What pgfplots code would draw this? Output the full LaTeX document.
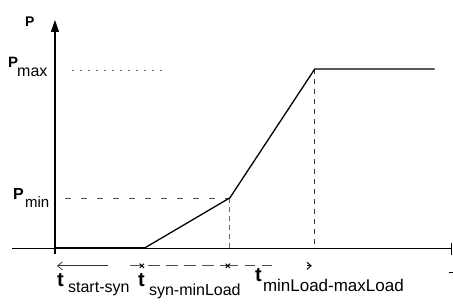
\documentclass[border=0pt]{standalone}
\usepackage{pgfplots}
\pgfplotsset{compat=1.18}
\usetikzlibrary{arrows.meta}
\usepackage{fontspec}
\setmainfont{Liberation Sans}
\begin{document}
\begin{tikzpicture}
\begin{axis}[scale only axis, width=453pt, height=304pt,
  xmin=0, xmax=453, ymin=0, ymax=304, hide axis, clip=false]
\path (axis cs:0,0) rectangle (axis cs:453,304);
% axes
\addplot[black, line width=1.2pt, -{Triangle[length=12pt,width=8pt]}] coordinates {(55,50) (55,284)};
\addplot[black, line width=1.1pt] coordinates {(12,55) (452,55)};
\addplot[black, line width=1.4pt] coordinates {(452,49) (452,61)};
\addplot[black, line width=0.6pt] coordinates {(449,32) (453,32)};
% guide lines
\addplot[black!60, line width=0.7pt, dash pattern=on 2pt off 6pt] coordinates {(72,234) (165,234)};
\addplot[black!70, line width=0.7pt, dash pattern=on 6pt off 10pt] coordinates {(65,106) (230,106)};
\addplot[black!60, line width=0.7pt, dash pattern=on 5pt off 4pt] coordinates {(230,106) (230,56)};
\addplot[black!80, line width=0.7pt, dash pattern=on 5pt off 5pt] coordinates {(315,235) (315,56)};
% power curve
\addplot[black, line width=2.6pt] coordinates {(55,56) (145,56)};
\addplot[black, line width=1.3pt] coordinates {(145,56) (230,106) (315,235) (435,235)};
% time interval arrows
\addplot[black!80, line width=0.7pt, {Straight Barb[length=5pt,width=8pt]}-] coordinates {(57,38) (108,38)};
\addplot[black!70, line width=0.7pt, dash pattern=on 12pt off 6pt] coordinates {(130,38) (228,38)};
\addplot[black!70, line width=0.7pt, dash pattern=on 10pt off 7pt] coordinates {(228,38) (272,38)};
\addplot[black, only marks, mark=x, mark size=3pt, line width=1pt] coordinates {(142,38) (228,38)};
\addplot[black, line width=1pt, -{Straight Barb[length=4pt,width=7pt]}] coordinates {(307,38) (312,38)};
% labels
\node[anchor=base west, inner sep=0, font=\fontsize{14}{16}\selectfont\bfseries] at (axis cs:25,277) {P};
\node[anchor=base west, inner sep=0, font=\fontsize{15}{17}\selectfont\bfseries] at (axis cs:8,236) {P};
\node[anchor=base west, inner sep=0, font=\fontsize{16}{18}\selectfont] at (axis cs:17,227) {max};
\node[anchor=base west, inner sep=0, font=\fontsize{16}{18}\selectfont\bfseries] at (axis cs:13,104) {P};
\node[anchor=base west, inner sep=0, font=\fontsize{15}{17}\selectfont] at (axis cs:25,96) {min};
\node[anchor=base west, inner sep=0, font=\fontsize{20}{22}\selectfont\bfseries] at (axis cs:57,17) {t};
\node[anchor=base west, inner sep=0, font=\fontsize{16}{18}\selectfont] at (axis cs:68,11) {start-syn};
\node[anchor=base west, inner sep=0, font=\fontsize{20}{22}\selectfont\bfseries] at (axis cs:138,17) {t};
\node[anchor=base west, inner sep=0, font=\fontsize{16}{18}\selectfont] at (axis cs:149,8) {syn-minLoad};
\node[anchor=base west, inner sep=0, font=\fontsize{20}{22}\selectfont\bfseries] at (axis cs:255,22) {t};
\node[anchor=base west, inner sep=0, font=\fontsize{17}{19}\selectfont] at (axis cs:263,12) {minLoad-maxLoad};
\end{axis}
\end{tikzpicture}
\end{document}
